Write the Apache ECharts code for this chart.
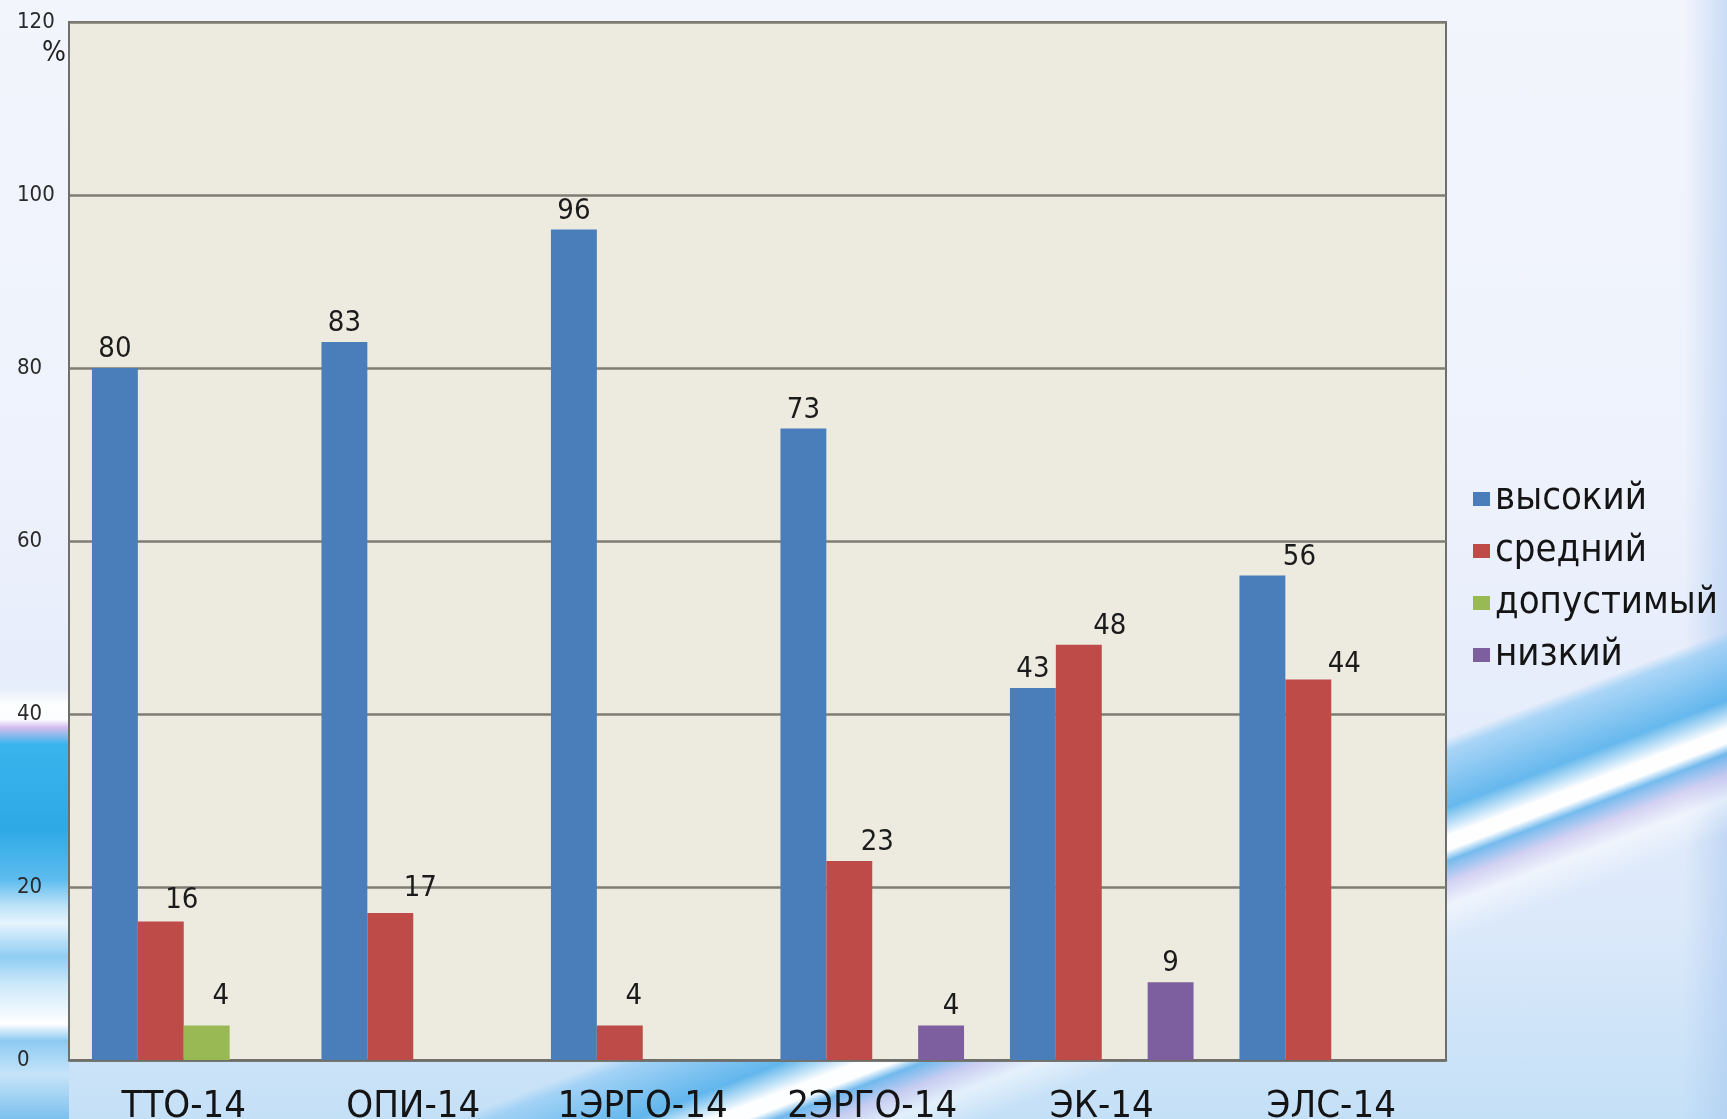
<!DOCTYPE html>
<html>
<head>
<meta charset="utf-8">
<script src="https://cdn.jsdelivr.net/npm/echarts@6/dist/echarts.min.js"></script>
<style>
html, body { margin:0; padding:0; width:1727px; height:1119px; overflow:hidden; }
body {
  background:
    linear-gradient(180deg, rgba(255,255,255,0) 61.5%, rgba(255,255,255,0.95) 63%, rgba(255,255,255,0.9) 64.3%, rgba(200,160,230,0.6) 65%, #3ab4ec 66.5%, #2da9e6 74%, #5dbcef 78.6%, #bfe3f8 81%, #e6f4fd 82.5%, #8fcdf3 85.5%, #cde9fa 88%, #ffffff 91.5%, #8ccaf2 93%, #c6e4f9 96%, #7cc0ee 100%) left top / 69px 100% no-repeat,
    linear-gradient(159deg, rgba(255,255,255,0) 72.6%, rgba(150,205,245,0.75) 73.3%, rgba(80,175,235,0.85) 76.5%, rgba(255,255,255,0.97) 78.1%, rgba(255,255,255,0.97) 78.9%, rgba(90,175,235,0.8) 79.5%, rgba(200,185,235,0.5) 80.7%, rgba(255,255,255,0.5) 82%, rgba(255,255,255,0) 84%),
    linear-gradient(90deg, rgba(255,255,255,0) 97.5%, rgba(170,200,240,0.55) 100%),
    linear-gradient(180deg, #f3f5fd 0%, #eef2fc 40%, #e6edfb 62%, #dce9fa 82%, #c4e0f7 100%);
}
#chart { width:1727px; height:1119px; }
</style>
</head>
<body>
<div id="chart"></div>
<script>
const categories = ['ТТО-14', 'ОПИ-14', '1ЭРГО-14', '2ЭРГО-14', 'ЭК-14', 'ЭЛС-14'];
const seriesNames = ['высокий', 'средний', 'допустимый', 'низкий'];
const high = [80, 83, 96, 73, 43, 56];
const mid = [16, 17, 4, 23, 48, 44];
const acceptable = [4, null, null, null, null, null];
const low = [null, null, null, 4, 9, null];
const yTicks = [0, 20, 40, 60, 80, 100, 120];

// label nudges (style only, in pixels)
const highShift = [[0,0],[0,0],[0,0],[0,0],[0,0],[37,0]];
const midShift = [[21,-3],[30,-6],[14,-10],[28,0],[31,0],[36,4]];
const accShift = [[14,-10],[0,0],[0,0],[0,0],[0,0],[0,0]];
const lowShift = [[0,0],[0,0],[0,0],[10,0],[0,0],[0,0]];

const FONT = '"DejaVu Sans Condensed", "DejaVu Sans", sans-serif';
const colors = ['#4A7EBB', '#BE4B48', '#98B954', '#7D5FA0'];

function mkData(vals, shifts) {
  return vals.map((v, i) => ({
    value: v,
    label: { offset: shifts[i] }
  }));
}

function mkSeries(name, vals, shifts, color) {
  return {
    name: name,
    type: 'bar',
    barGap: '0%',
    barCategoryGap: '20%',
    itemStyle: { color: color },
    label: {
      show: true,
      position: 'top',
      distance: 4,
      fontFamily: FONT,
      fontSize: 29,
      color: '#1b1b1b'
    },
    data: mkData(vals, shifts)
  };
}

const chart = echarts.init(document.getElementById('chart'), null, { renderer: 'canvas' });
chart.setOption({
  animation: false,
  backgroundColor: 'transparent',
  color: colors,
  grid: {
    left: 69, right: 281, top: 22, bottom: 59,
    containLabel: false,
    outerBoundsMode: 'none',
    show: true,
    backgroundColor: '#EDEAE0',
    borderColor: '#6e6e6a',
    borderWidth: 2
  },
  legend: {
    orient: 'vertical',
    left: 1473,
    top: 480,
    padding: 0,
    itemWidth: 17,
    itemHeight: 14,
    itemGap: 14,
    icon: 'rect',
    data: seriesNames,
    textStyle: { fontFamily: FONT, fontSize: 38, lineHeight: 38, color: '#141414' }
  },
  xAxis: {
    type: 'category',
    data: categories,
    axisLine: { lineStyle: { color: '#6e6e6a', width: 2.5 } },
    axisTick: { show: false },
    axisLabel: { fontFamily: FONT, fontSize: 38, color: '#141414', margin: 28, interval: 0 }
  },
  yAxis: {
    type: 'value',
    min: yTicks[0],
    max: yTicks[yTicks.length - 1],
    interval: yTicks[1] - yTicks[0],
    axisLine: { show: true, lineStyle: { color: '#6e6e6a', width: 2 } },
    axisTick: { show: false },
    splitLine: { lineStyle: { color: '#7f7c74', width: 2.5 } },
    axisLabel: { fontFamily: FONT, fontSize: 22, color: '#2a2a2a', align: 'left', margin: 52 }
  },
  graphic: [{
    type: 'text',
    left: 42,
    top: 40,
    z: 100,
    style: { text: '%', font: '28px ' + FONT, fill: '#222' }
  }],
  series: [
    mkSeries(seriesNames[0], high, highShift, colors[0]),
    mkSeries(seriesNames[1], mid, midShift, colors[1]),
    mkSeries(seriesNames[2], acceptable, accShift, colors[2]),
    mkSeries(seriesNames[3], low, lowShift, colors[3])
  ]
});
</script>
</body>
</html>
